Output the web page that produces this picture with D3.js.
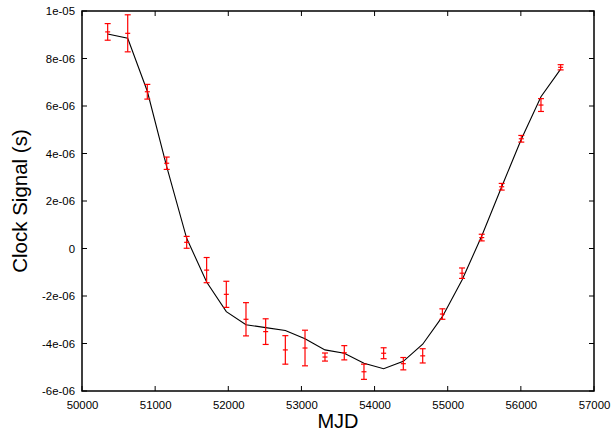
<!DOCTYPE html>
<html>
<head>
<meta charset="utf-8">
<script src="https://cdn.jsdelivr.net/npm/d3@7"></script>
<style>
  html, body { margin: 0; padding: 0; background: #fff; }
  svg { display: block; }
  text { font-family: "Liberation Sans", Arial, Helvetica, sans-serif; }
</style>
</head>
<body>
<svg id="chart" width="612" height="432"></svg>
<script>
// Data (signal values in units of 1e-6 s)
const mjd    = [50351, 50625, 50893, 51158, 51431, 51704, 51973, 52242, 52511, 52780, 53049, 53322,
                53586, 53855, 54124, 54393, 54658, 54927, 55196, 55465, 55738, 56006, 56275, 56544];
const signal = [9.12, 9.06, 6.60, 3.59, 0.26, -0.91, -1.93, -2.98, -3.50, -4.27, -4.19, -4.57,
                -4.39, -5.19, -4.41, -4.85, -4.52, -2.76, -1.04, 0.46, 2.60, 4.62, 6.04, 7.63];
const errs   = [0.35, 0.78, 0.31, 0.26, 0.25, 0.53, 0.55, 0.70, 0.54, 0.60, 0.75, 0.17,
                0.30, 0.32, 0.23, 0.26, 0.30, 0.22, 0.22, 0.14, 0.14, 0.14, 0.27, 0.11];
const model  = [9.03, 8.85, 6.62, 3.45, 0.43, -1.41, -2.66, -3.21, -3.33, -3.45, -3.80, -4.27,
                -4.41, -4.83, -5.06, -4.75, -4.03, -2.87, -1.33, 0.53, 2.60, 4.60, 6.39, 7.55];
const xTicks = [50000, 51000, 52000, 53000, 54000, 55000, 56000, 57000];
const yTicks = [10, 8, 6, 4, 2, 0, -2, -4, -6];
const yTickLabels = ["1e-05", "8e-06", "6e-06", "4e-06", "2e-06", "0", "-2e-06", "-4e-06", "-6e-06"];

const svg = d3.select("#chart");
const L = 82, R = 594, T = 11, B = 391;

const x = d3.scaleLinear().domain([50000, 57000]).range([L, R]);
const y = d3.scaleLinear().domain([-6, 10]).range([B, T]);

const tickLen = 5;

// Axes with inward ticks (mirrored)
const axB = d3.axisBottom(x).tickValues(xTicks).tickSize(0).tickPadding(10).tickFormat(d3.format("d"));
const axL = d3.axisLeft(y).tickValues(yTicks).tickSize(0).tickPadding(7)
  .tickFormat((d, i) => yTickLabels[i]);

const gB = svg.append("g").attr("transform", `translate(0,${B})`).call(axB);
const gL = svg.append("g").attr("transform", `translate(${L},0)`).call(axL);
[gB, gL].forEach(g => {
  g.select(".domain").remove();
  g.selectAll("text").attr("font-size", 11.4).attr("fill", "#000")
    .attr("font-family", "'Liberation Sans', Arial, sans-serif");
});

// Tick marks (inward on all four sides)
const ticks = svg.append("g").attr("stroke", "#000").attr("stroke-width", 1);
xTicks.forEach(t => {
  ticks.append("line").attr("x1", x(t)).attr("x2", x(t)).attr("y1", B).attr("y2", B - tickLen);
  ticks.append("line").attr("x1", x(t)).attr("x2", x(t)).attr("y1", T).attr("y2", T + tickLen);
});
yTicks.forEach(t => {
  ticks.append("line").attr("x1", L).attr("x2", L + tickLen).attr("y1", y(t)).attr("y2", y(t));
  ticks.append("line").attr("x1", R).attr("x2", R - tickLen).attr("y1", y(t)).attr("y2", y(t));
});

// Model line
const line = d3.line().x((d, i) => x(mjd[i])).y(d => y(d));
svg.append("path").datum(model).attr("d", line)
  .attr("fill", "none").attr("stroke", "#000").attr("stroke-width", 1.1);

// Error bars
const eb = svg.append("g").attr("stroke", "#ff0000").attr("stroke-width", 1.2).attr("fill", "none");
mjd.forEach((m, i) => {
  const cx = x(m), yt = y(signal[i] + errs[i]), yb = y(signal[i] - errs[i]), cy = y(signal[i]);
  eb.append("line").attr("x1", cx).attr("x2", cx).attr("y1", yt).attr("y2", yb);
  eb.append("line").attr("x1", cx - 3).attr("x2", cx + 3).attr("y1", yt).attr("y2", yt);
  eb.append("line").attr("x1", cx - 3).attr("x2", cx + 3).attr("y1", yb).attr("y2", yb);
  eb.append("line").attr("x1", cx - 2.5).attr("x2", cx + 2.5).attr("y1", cy).attr("y2", cy);
});

// Frame
svg.append("rect").attr("x", L).attr("y", T).attr("width", R - L).attr("height", B - T)
  .attr("fill", "none").attr("stroke", "#000").attr("stroke-width", 1.5);

// Axis titles
svg.append("text").attr("x", (L + R) / 2).attr("y", 428).attr("text-anchor", "middle")
  .attr("font-size", 20).attr("fill", "#000").text("MJD");
svg.append("text").attr("transform", `translate(27,${(T + B) / 2}) rotate(-90)`)
  .attr("text-anchor", "middle").attr("font-size", 20.5).attr("fill", "#000").text("Clock Signal (s)");
</script>
</body>
</html>
